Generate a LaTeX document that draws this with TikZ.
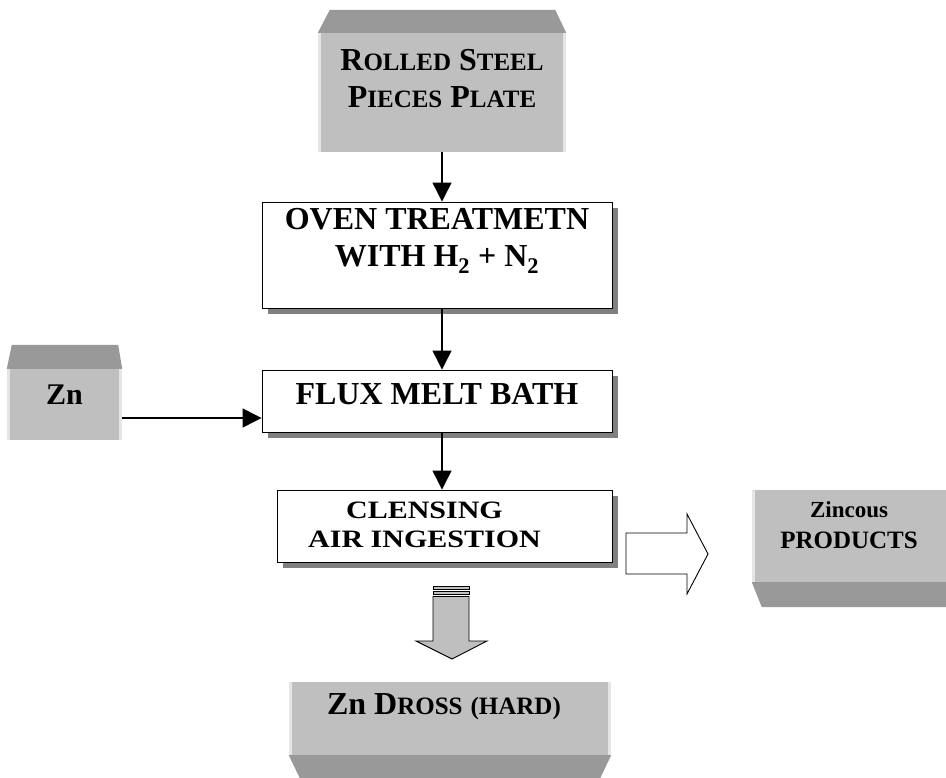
\documentclass[tikz,border=0pt]{standalone}
\usepackage{fontspec}
\setmainfont{Liberation Serif}
\usepackage{graphicx}
\usetikzlibrary{arrows.meta,shadows}

\newcommand{\smallcap}[1]{{\fontsize{25}{37}\selectfont #1}}
\newcommand{\wide}[1]{\scalebox{1.2}[1]{#1}}

\tikzset{
  slab/.style={fill=black!25, inner sep=0pt},
  bevel/.style={fill=black!40},
  edgelight/.style={fill=black!10},
  stepbox/.style={draw, fill=white, line width=0.9pt, inner sep=0pt,
    drop shadow={shadow xshift=6pt, shadow yshift=-6pt, fill=black!50, opacity=1}},
  flow/.style={line width=1.2pt, -{Triangle[length=19pt,width=19pt]}},
  bigtxt/.style={font=\bfseries\fontsize{32}{37}\selectfont, align=center, inner sep=0pt},
  blockarrow/.style={line width=0.9pt}
}

\begin{document}
\begin{tikzpicture}[x=1pt,y=-1pt]
        \useasboundingbox (0,0) rectangle (946,778);

        % raw material slab
        \node[slab, minimum width=248pt, minimum height=119pt] (steel) at (442,92.5) {};
        \fill[bevel] (steel.north west) -- ([xshift=12pt,yshift=23pt]steel.north west)
            -- ([xshift=-11pt,yshift=23pt]steel.north east) -- (steel.north east) -- cycle;
        \fill[edgelight] (steel.north west) rectangle ([xshift=3pt]steel.south west);
        \fill[edgelight] ([xshift=-3pt]steel.north east) rectangle (steel.south east);
        \node[bigtxt] (steeltext) at ([yshift=14pt]steel.center)
            {R\smallcap{OLLED} S\smallcap{TEEL}\\P\smallcap{IECES} P\smallcap{LATE}};

        % zinc slab
        \node[slab, minimum width=115pt, minimum height=71pt] (zn) at (64.5,404.5) {};
        \fill[bevel] (zn.north west) -- ([xshift=5pt,yshift=24pt]zn.north west)
            -- ([xshift=-4pt,yshift=24pt]zn.north east) -- (zn.north east) -- cycle;
        \fill[edgelight] (zn.north west) rectangle ([xshift=3pt]zn.south west);
        \fill[edgelight] ([xshift=-3pt]zn.north east) rectangle (zn.south east);
        \node[bigtxt, font=\bfseries\fontsize{30}{36}\selectfont] (zntext) at ([yshift=9.5pt]zn.center) {Zn};

        % process steps
        \node[stepbox, minimum width=350pt, minimum height=106pt] (oven) at (437,255) {};
        \node[bigtxt] (oventext) at ([yshift=14pt]oven.center)
            {OVEN TREATMETN\\WITH H\textsubscript{2} + N\textsubscript{2}};

        \node[stepbox, minimum width=350pt, minimum height=62pt] (flux) at (437,401) {};
        \node[bigtxt] (fluxtext) at ([yshift=7pt]flux.center) {FLUX MELT BATH};

        \node[stepbox, minimum width=335pt, minimum height=72pt] (clens) at (444.5,526) {};
        \node[bigtxt, font=\bfseries\fontsize{25}{29}\selectfont] (clenstext) at ([xshift=-20pt,yshift=1pt]clens.center)
            {\wide{CLENSING}\\\wide{AIR INGESTION}};

        % products
        \node[slab, minimum width=194pt, minimum height=92pt] (zincous) at (849,536) {};
        \fill[bevel] (zincous.south west) -- ([xshift=10pt,yshift=-25pt]zincous.south west)
            -- ([yshift=-25pt]zincous.south east) -- (zincous.south east) -- cycle;
        \fill[edgelight] (zincous.north west) rectangle ([xshift=3pt]zincous.south west);
        \node[bigtxt, font=\bfseries\fontsize{25}{31}\selectfont] (zincoustext) at ([yshift=11pt]zincous.center)
            {{\fontsize{23}{31}\selectfont Zincous}\\PRODUCTS};

        \node[slab, minimum width=322pt, minimum height=73pt] (dross) at (450,718.5) {};
        \fill[bevel] (dross.south west) -- ([xshift=11pt,yshift=-23pt]dross.south west)
            -- ([xshift=-11pt,yshift=-23pt]dross.south east) -- (dross.south east) -- cycle;
        \fill[edgelight] (dross.north west) rectangle ([xshift=3pt]dross.south west);
        \fill[edgelight] ([xshift=-3pt]dross.north east) rectangle (dross.south east);
        \node[bigtxt] (drosstext) at ([xshift=-6pt,yshift=11.5pt]dross.center)
            {Zn D\smallcap{ROSS} \smallcap{(HARD)}};

        % connectors
        \draw[flow] (steel.south) -- (steel.south |- oven.north);
        \draw[flow] (oven.south -| steel.south) -- (flux.north -| steel.south);
        \draw[flow] (flux.south -| steel.south) -- (clens.north -| steel.south);
        \draw[flow] ([yshift=-13.5pt]zn.east) -- ([yshift=-13.5pt]zn.east -| flux.west);

        % block arrows
        \draw[blockarrow, fill=white] (626,533) -- (687,533) -- (687,514) -- (708,554)
            -- (687,594) -- (687,574) -- (626,574) -- cycle;
        \draw[blockarrow, fill=black!25] (433,586) rectangle (469,589);
        \draw[blockarrow, fill=black!25] (433,591.5) rectangle (469,594);
        \draw[blockarrow, fill=black!25] (433,596.5) -- (469,596.5) -- (469,641) -- (487,641)
            -- (452,659) -- (416,641) -- (433,641) -- cycle;

\end{tikzpicture}
\end{document}
